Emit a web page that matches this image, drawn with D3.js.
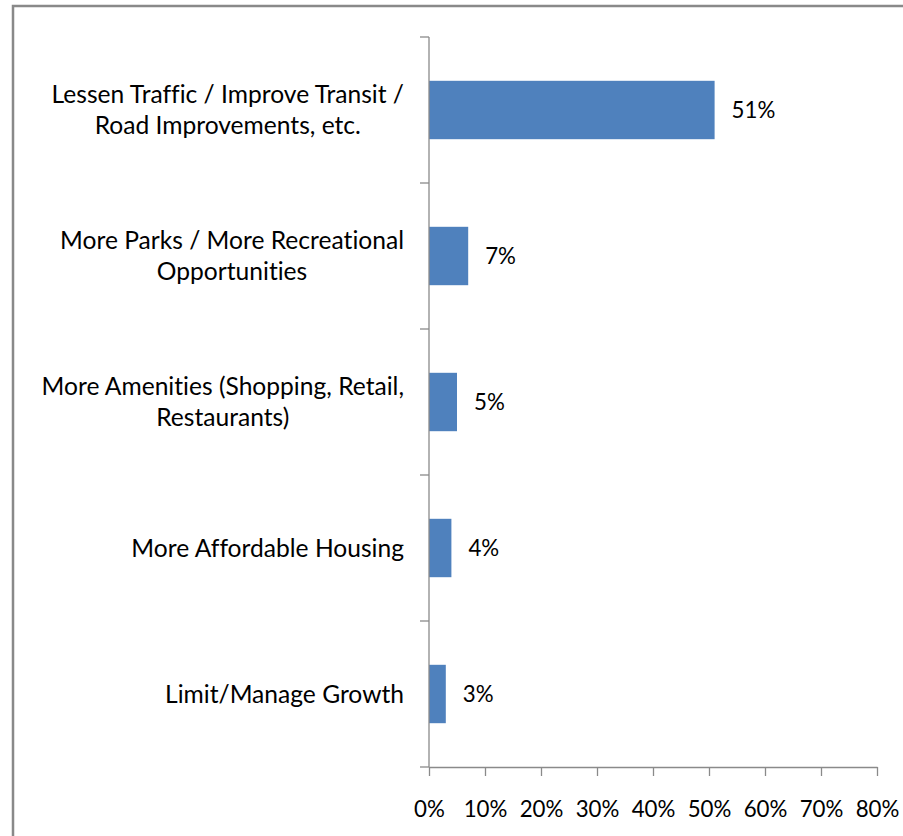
<!DOCTYPE html>
<html>
<head>
<meta charset="utf-8">
<script src="https://cdn.jsdelivr.net/npm/d3@7"></script>
<style>
  html, body { margin: 0; padding: 0; background: #fff; }
  svg { display: block; }
  text { font-family: Lato, "Open Sans", sans-serif; fill: #000; font-variant-ligatures: none; }
</style>
</head>
<body>
<svg id="chart" width="903" height="836"></svg>
<script>
const categories = [
  "Lessen Traffic / Improve Transit / Road Improvements, etc.",
  "More Parks / More Recreational Opportunities",
  "More Amenities (Shopping, Retail, Restaurants)",
  "More Affordable Housing",
  "Limit/Manage Growth"
];
const values = [51, 7, 5, 4, 3];
const xTicks = [0, 10, 20, 30, 40, 50, 60, 70, 80];

const W = 903, H = 836;
const catFont = 24.6;
const numFont = 22.3;
const svg = d3.select("#chart");

// outer border (chart area frame)
svg.append("rect")
  .attr("x", 13).attr("y", 6)
  .attr("width", W + 10).attr("height", H + 10)
  .attr("fill", "#fff").attr("stroke", "#898989").attr("stroke-width", 2.5);

const plot = { left: 429, right: 877, top: 37, bottom: 767 };

const x = d3.scaleLinear().domain([0, 80]).range([plot.left, plot.right]);
const y = d3.scaleBand().domain(categories).range([plot.top, plot.bottom])
  .paddingInner(0.6).paddingOuter(0.3);

const axisColor = "#8a8a8a";

// bars
svg.append("g").selectAll("rect").data(values).join("rect")
  .attr("x", x(0))
  .attr("y", (d, i) => y(categories[i]))
  .attr("width", d => x(d) - x(0))
  .attr("height", y.bandwidth())
  .attr("fill", "#4F81BD");

// y axis
const yBoundaries = d3.range(categories.length + 1).map(i => plot.top + i * y.step());
const gy = svg.append("g");
gy.append("line")
  .attr("x1", plot.left).attr("x2", plot.left)
  .attr("y1", plot.top).attr("y2", plot.bottom)
  .attr("stroke", axisColor).attr("stroke-width", 1.3);
gy.selectAll("line.tick").data(yBoundaries).join("line")
  .attr("class", "tick")
  .attr("x1", plot.left - 9).attr("x2", plot.left)
  .attr("y1", d => d).attr("y2", d => d)
  .attr("stroke", axisColor).attr("stroke-width", 1.3);

// x axis
const xAxis = d3.axisBottom(x).tickValues(xTicks).tickFormat(d => d + "%")
  .tickSize(9).tickSizeOuter(0);
const gx = svg.append("g").attr("transform", `translate(0,${plot.bottom})`).call(xAxis);
gx.select(".domain").attr("stroke", axisColor).attr("stroke-width", 1.3);
gx.selectAll(".tick line").attr("stroke", axisColor).attr("stroke-width", 1.3);
gx.selectAll(".tick text")
  .attr("y", 42).attr("dy", "0.35em")
  .style("font-size", numFont + "px").style("font-family", "Lato, sans-serif").attr("fill", "#000");

// category labels (wrapped, centered block, right-aligned to axis)
const measure = svg.append("text").style("font-size", catFont + "px").attr("opacity", 0);
function textWidth(s) { measure.text(s); return measure.node().getComputedTextLength(); }
function wrap(s, maxW) {
  const words = s.split(" ");
  const lines = [];
  let cur = "";
  words.forEach(w => {
    const t = cur ? cur + " " + w : w;
    if (cur && textWidth(t) > maxW) { lines.push(cur); cur = w; } else cur = t;
  });
  if (cur) lines.push(cur);
  return lines;
}
const labelRight = 404;
const lineH = 31;
categories.forEach((c, i) => {
  const lines = wrap(c, 385);
  const widths = lines.map(textWidth);
  const blockW = d3.max(widths);
  const cx = labelRight - blockW / 2;
  const cy = y(c) + y.bandwidth() / 2;
  const t = svg.append("text")
    .attr("text-anchor", "middle")
    .style("font-size", catFont + "px");
  lines.forEach((l, j) => {
    t.append("tspan")
      .attr("x", cx)
      .attr("y", cy + (j - (lines.length - 1) / 2) * lineH)
      .attr("dy", "0.35em")
      .text(l);
  });
});
measure.remove();

// data labels
svg.append("g").selectAll("text").data(values).join("text")
  .attr("x", d => x(d) + 17)
  .attr("y", (d, i) => y(categories[i]) + y.bandwidth() / 2)
  .attr("dy", "0.35em")
  .style("font-size", numFont + "px")
  .text(d => d + "%");
</script>
</body>
</html>
